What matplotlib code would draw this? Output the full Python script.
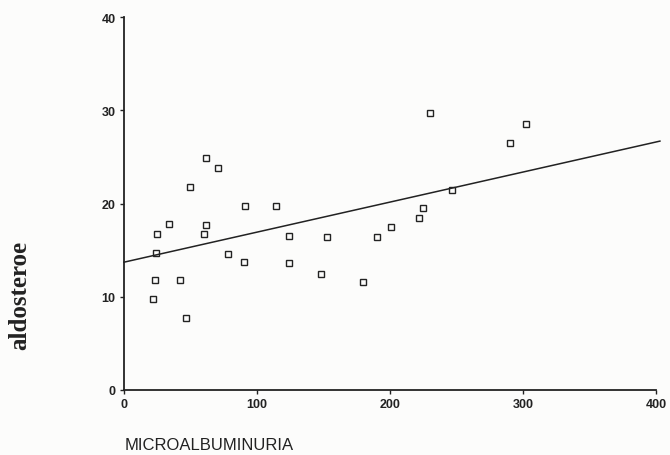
"""Scatter of aldosterone vs microalbuminuria with a fitted straight line."""

import matplotlib

matplotlib.use("Agg")
import matplotlib.pyplot as plt

# values
microalb = [50, 25, 34, 24, 23.5, 42, 22, 47, 60, 61.5, 62, 71, 78, 91, 90, 114,
            124, 124, 153, 148, 180, 190, 201, 222, 225, 230, 247, 290, 302]
aldost = [21.8, 16.7, 17.8, 14.7, 11.8, 11.8, 9.8, 7.7, 16.7, 17.7, 24.9, 23.8,
          14.6, 19.7, 13.7, 19.7, 16.5, 13.6, 16.4, 12.4, 11.6, 16.4, 17.5, 18.4,
          19.5, 29.7, 21.4, 26.5, 28.5]

# regression line end points (as drawn)
fit_x = [0, 403]
fit_y = [13.7, 26.7]

x_ticks = [0, 100, 200, 300, 400]
y_ticks = [0, 10, 20, 30, 40]

fig = plt.figure(figsize=(6.7, 4.56), dpi=100, facecolor="#fcfcfb")
ax = fig.add_axes([0.185, 0.143, 0.794, 0.817])
ax.set_facecolor("#fcfcfb")

ax.plot(fit_x, fit_y, color="#222222", lw=1.1, clip_on=False)
ax.plot(microalb, aldost, ls="none", marker="s", ms=4.0, mfc="none",
        mec="#222222", mew=1.0, clip_on=False)

ax.set_xlim(0, 400)
ax.set_ylim(0, 40)
ax.set_xticks(x_ticks)
ax.set_yticks(y_ticks)
for s in ("top", "right"):
    ax.spines[s].set_visible(False)
for s in ("left", "bottom"):
    ax.spines[s].set_linewidth(1.3)
    ax.spines[s].set_color("#222222")
ax.tick_params(direction="out", length=3, width=1, colors="#222222",
               labelsize=9, pad=3)
for lab in ax.get_xticklabels() + ax.get_yticklabels():
    lab.set_fontfamily("Liberation Sans")
    lab.set_fontweight("bold")

fig.text(0.186, 0.022, "MICROALBUMINURIA", family="Liberation Sans",
         fontsize=12, ha="left", va="center", color="#222222")
fig.text(0.03, 0.353, "aldosteroe", family="Liberation Serif",
         fontweight="bold", fontsize=18, rotation=90, ha="center",
         va="center", color="#222222")

fig.savefig("out.png", dpi=100, facecolor=fig.get_facecolor())
